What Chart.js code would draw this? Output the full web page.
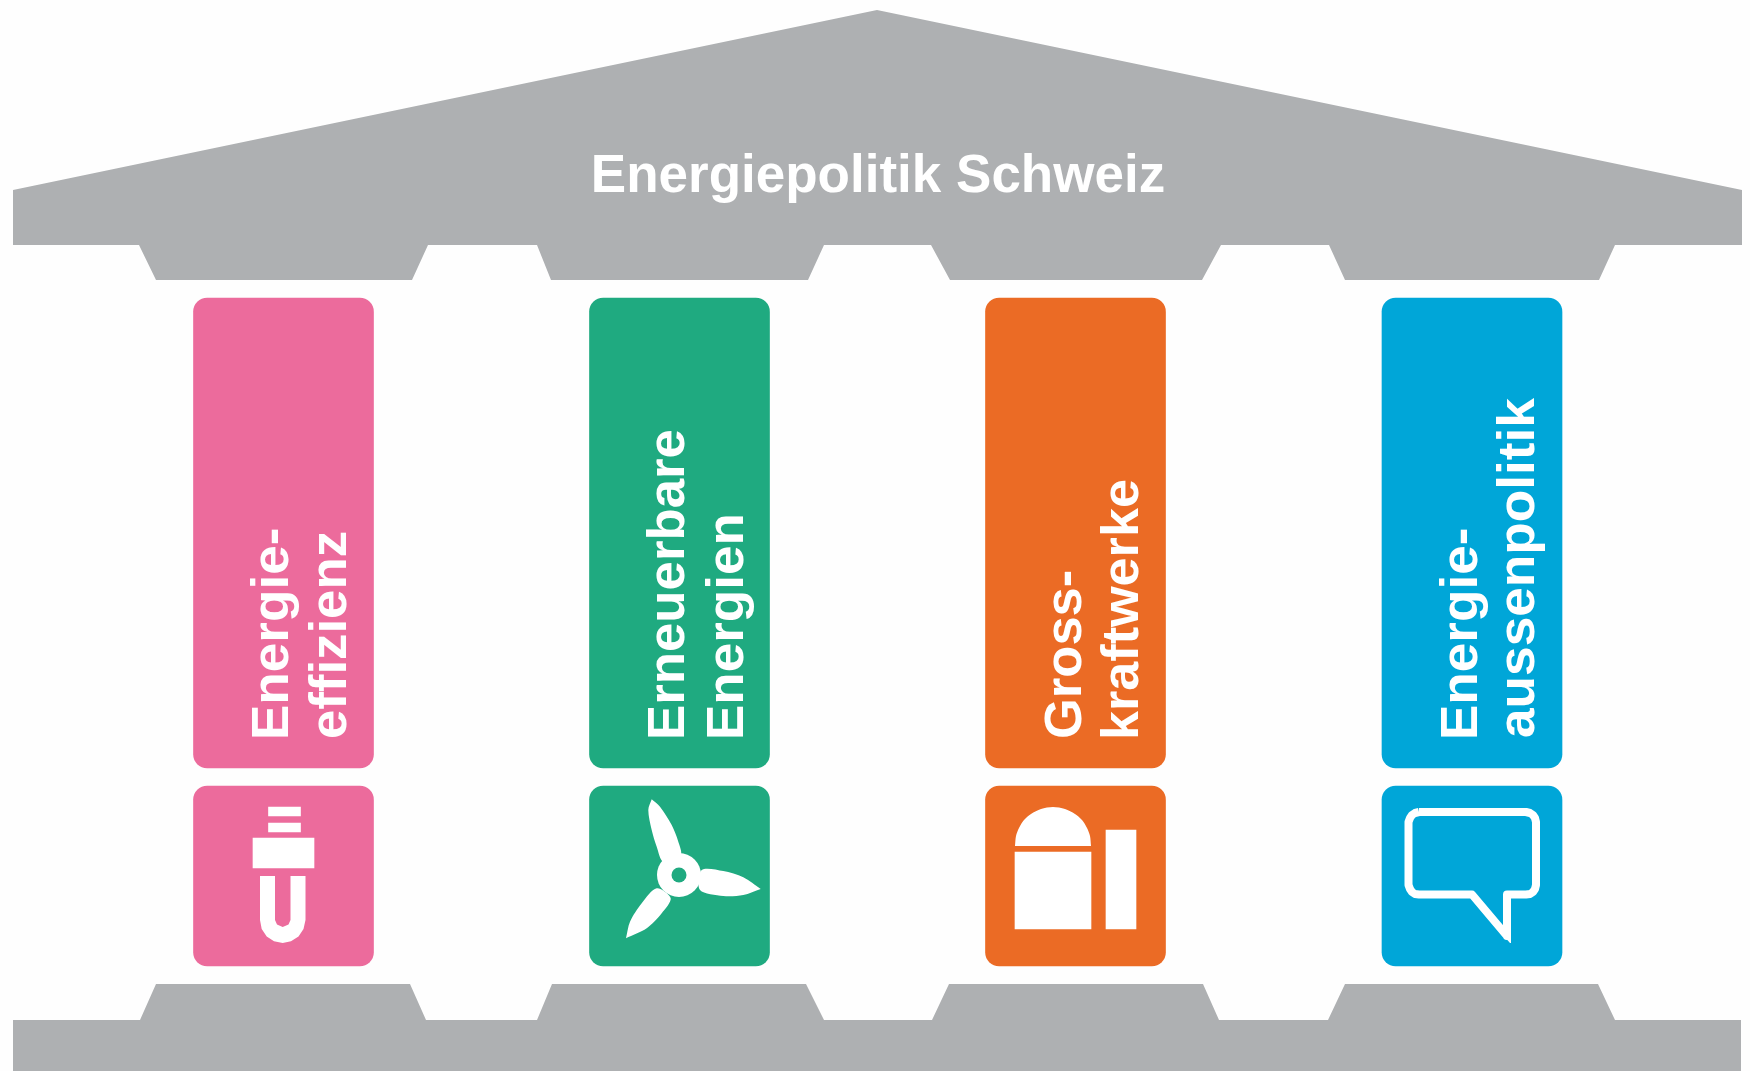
<!DOCTYPE html>
<html lang="de">
<head>
<meta charset="utf-8">
<title>Energiepolitik Schweiz</title>
<script src="https://cdn.jsdelivr.net/npm/chart.js@4/dist/chart.umd.min.js"></script>
<style>
    html, body { margin: 0; padding: 0; background: #fefefe; }
    canvas { display: block; }
</style>
</head>
<body>
<canvas id="tempel" width="1750" height="1071"></canvas>
<script>
// texts
var title = 'Energiepolitik Schweiz';
var pillarNames = [
    ['Energie-', 'effizienz'],
    ['Erneuerbare', 'Energien'],
    ['Gross-', 'kraftwerke'],
    ['Energie-', 'aussenpolitik']
];
var pillarColors = ['#EC6B9C', '#1FAA80', '#EB6B25', '#00A6D8'];

var pillarX = [283.5, 679.5, 1075.5, 1472];
var pillarSpan = [298, 768];
var iconSpan = [786, 966];
var textBaselines = [[288, 346], [684, 743], [1081, 1138], [1477, 1534]];
var textLengths = [[208, 205], [307, 221], [166, 257], [208, 339]];
var textStart = 737;
var titlePos = [878, 192];

var roof = [
    [13, 245], [13, 190], [877, 10], [1742, 190], [1742, 245], [1615, 245], [1599, 280], [1345, 280],
    [1329, 245], [1221, 245], [1202, 280], [950, 280], [931, 245], [824, 245], [808, 280], [551, 280],
    [537, 245], [428, 245], [412, 280], [156, 280], [139, 245]
];
var base = [
    [13, 1071], [13, 1020], [140, 1020], [156, 984], [410, 984], [426, 1020], [537, 1020], [552, 984],
    [806, 984], [824, 1020], [932, 1020], [949, 984], [1203, 984], [1219, 1020], [1328, 1020], [1345, 984],
    [1598, 984], [1615, 1020], [1741, 1020], [1741, 1071]
];

// lamp
var lampBars = [[284.5, 807, 816], [284.5, 823, 832]];
var lampSocket = [[283.5, 838, 868]];
var lampTube = [
    [260, 876], [260, 920], [261.7, 929], [266.7, 936.5], [274, 941.3], [282.7, 943],
    [291, 941.3], [298.5, 936.5], [303.5, 929], [305.5, 920], [305.5, 876],
    [290.5, 876], [290.5, 920], [288.5, 924.5], [282.7, 927], [277, 924.5], [275, 920], [275, 876]
];

// wind turbine
var hub = [[679, 875]];
var bladeTop = [
    [651.7, 799.3], [660, 806.7], [671.7, 825], [678.3, 841.7], [680.7, 855],
    [663.3, 861.7], [656.7, 846.7], [651.7, 830], [648.3, 810], [651.7, 799.3]
];
var bladeRight = [
    [760.7, 889], [743.3, 877.3], [723.3, 871], [701.7, 870],
    [700, 890], [723.3, 896], [743.3, 895], [760.7, 889]
];
var bladeLeft = [
    [626, 938.3], [630, 921.7], [641.7, 903.3], [656.7, 888.3],
    [670.7, 898.3], [661.7, 913.3], [646.7, 928.3], [626, 938.3]
];

// power plant
var dome = [
    [1015, 846], [1016, 836], [1019, 828], [1024, 820], [1031, 814], [1041, 809], [1053, 807],
    [1065, 809], [1075, 814], [1082, 820], [1087, 828], [1090, 836], [1091, 846]
];
var plantHall = [[1053, 852, 929]];
var plantTower = [[1121, 830, 929]];

// speech bubble
var bubble = [
    [1419, 812], [1526, 812], [1530, 813], [1533, 815], [1535, 818], [1536, 822], [1536, 885],
    [1535, 889], [1533, 892], [1530, 894], [1526, 894.5], [1507, 894.5], [1507, 936], [1472, 894.5],
    [1419, 894.5], [1415, 894], [1412, 892], [1410, 889], [1408.5, 885], [1408.5, 822],
    [1410, 818], [1412, 815], [1415, 813], [1419, 812]
];
var bubbleTip = [[1511, 925], [1511, 943], [1510, 943], [1494, 925]];

var GREY = '#AEB0B2';
var WHITE = '#FFFFFF';

function points(list) {
    return list.map(function (p) { return { x: p[0], y: p[1] }; });
}

function floating(list) {
    return list.map(function (b) { return { x: b[0], y: [b[1], b[2]] }; });
}

function shape(list, color, order, tension) {
    return {
        type: 'scatter',
        data: points(list),
        showLine: true,
        fill: 'shape',
        backgroundColor: color,
        borderColor: color,
        borderWidth: 0,
        pointRadius: 0,
        tension: tension || 0,
        order: order
    };
}

function stroke(list, color, width, order) {
    return {
        type: 'scatter',
        data: points(list),
        showLine: true,
        fill: false,
        borderColor: color,
        borderWidth: width,
        borderCapStyle: 'butt',
        borderJoinStyle: 'round',
        pointRadius: 0,
        tension: 0,
        order: order
    };
}

function block(list, color, width, radius, order) {
    return {
        type: 'bar',
        data: floating(list),
        backgroundColor: color,
        barThickness: width,
        borderRadius: radius,
        borderSkipped: false,
        grouped: false,
        order: order
    };
}

function dot(list, color, radius, order) {
    return {
        type: 'scatter',
        data: points(list),
        pointRadius: radius,
        pointBackgroundColor: color,
        pointBorderWidth: 0,
        order: order
    };
}

var pillarBlocks = pillarX.map(function (x) { return [x, pillarSpan[0], pillarSpan[1]]; });
var iconBlocks = pillarX.map(function (x) { return [x, iconSpan[0], iconSpan[1]]; });

var templeText = {
    id: 'templeText',
    afterDatasetsDraw: function (chart) {
        var ctx = chart.ctx;
        var xs = chart.scales.x;
        var ys = chart.scales.y;
        ctx.save();
        ctx.fillStyle = WHITE;
        ctx.textBaseline = 'alphabetic';

        ctx.font = 'bold 53px "Liberation Sans"';
        ctx.textAlign = 'center';
        ctx.fillText(title, xs.getPixelForValue(titlePos[0]), ys.getPixelForValue(titlePos[1]));

        // the lines run upwards, each one stretched a little to the length it has in the picture
        ctx.font = 'bold 52px "Liberation Sans"';
        ctx.textAlign = 'left';
        pillarNames.forEach(function (lines, i) {
            lines.forEach(function (line, j) {
                var m = ctx.measureText(line);
                var ink = m.actualBoundingBoxLeft + m.actualBoundingBoxRight;
                ctx.save();
                ctx.translate(xs.getPixelForValue(textBaselines[i][j]), ys.getPixelForValue(textStart));
                ctx.rotate(-Math.PI / 2);
                ctx.scale(textLengths[i][j] / ink, 1);
                ctx.fillText(line, m.actualBoundingBoxLeft, 0);
                ctx.restore();
            });
        });
        ctx.restore();
    }
};

document.addEventListener('DOMContentLoaded', function () {
    var ctx = document.getElementById('tempel').getContext('2d');
    var tempel = new Chart(ctx, {
        type: 'bar',
        data: {
            datasets: [
                shape(roof, GREY, 30),
                shape(base, GREY, 30),
                block(pillarBlocks, pillarColors, 180, 14, 20),
                block(iconBlocks, pillarColors, 180, 14, 20),
                block(lampBars, WHITE, 32, 0, 10),
                block(lampSocket, WHITE, 61, 0, 10),
                shape(lampTube, WHITE, 10),
                shape(bladeTop, WHITE, 10, 0.3),
                shape(bladeRight, WHITE, 10, 0.3),
                shape(bladeLeft, WHITE, 10, 0.3),
                dot(hub, WHITE, 22, 9),
                dot(hub, pillarColors[1], 7.5, 8),
                shape(dome, WHITE, 10, 0.3),
                block(plantHall, WHITE, 76, 0, 10),
                block(plantTower, WHITE, 30, 0, 10),
                stroke(bubble, WHITE, 8, 10),
                shape(bubbleTip, WHITE, 10)
            ]
        },
        options: {
            responsive: false,
            animation: false,
            layout: { padding: 0, autoPadding: false },
            plugins: {
                legend: { display: false },
                tooltip: { enabled: false },
                title: { display: false }
            },
            scales: {
                x: { type: 'linear', min: 0, max: 1750, offset: false, display: false },
                y: { type: 'linear', min: 0, max: 1071, reverse: true, display: false }
            }
        },
        plugins: [templeText]
    });
});
</script>
</body>
</html>
